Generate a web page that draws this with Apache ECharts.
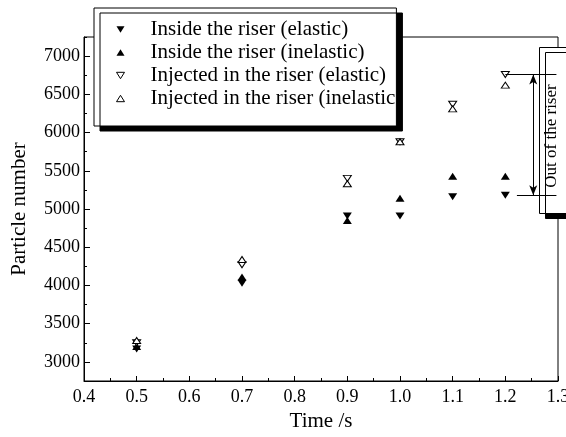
<!DOCTYPE html>
<html>
<head>
<meta charset="utf-8">
<script src="https://cdn.jsdelivr.net/npm/echarts@6/dist/echarts.min.js"></script>
<style>
  html, body { margin: 0; padding: 0; background: #fff; }
  #chart { width: 566px; height: 437px; }
</style>
</head>
<body>
<div id="chart"></div>
<script>
// Particle counts over time, inside the riser vs. injected into the riser
const times = [0.5, 0.7, 0.9, 1.0, 1.1, 1.2];
const insideElastic = [3170, 4030, 4910, 4910, 5160, 5180];
const insideInelastic = [3200, 4110, 4850, 5140, 5430, 5430];
const injectedElastic = [3250, 4270, 5400, 5880, 6370, 6760];
const injectedInelastic = [3280, 4340, 5330, 5880, 6310, 6620];

const seriesNames = [
  'Inside the riser (elastic)',
  'Inside the riser (inelastic)',
  'Injected in the riser (elastic)',
  'Injected in the riser (inelastic)'
];

const yMajorTicks = [3000, 3500, 4000, 4500, 5000, 5500, 6000, 6500, 7000];
const yMinorTicks = [2750, 3250, 3750, 4250, 4750, 5250, 5750, 6250, 6750, 7250];

const FONT = '"Liberation Serif", "Times New Roman", serif';

function pairs(ys) { return times.map((t, i) => [t, ys[i]]); }

const filled = { color: '#000', opacity: 1 };
const hollow = { color: '#fff', borderColor: '#000', borderWidth: 1, opacity: 1 };

const ICON_DOWN = 'path://M0,0L10,0L5,8Z';
const ICON_UP = 'path://M5,0L10,8L0,8Z';

// bracket marking the particles that left the riser at the last time step
const last = times.length - 1;
const bracketTop = injectedElastic[last];
const bracketBottom = insideElastic[last];

const chart = echarts.init(document.getElementById('chart'), null, { renderer: 'canvas' });

chart.setOption({
  backgroundColor: '#fff',
  animation: false,
  grid: {
    left: 84, right: 8, top: 37, bottom: 56,
    outerBoundsMode: 'none',
    containLabel: false,
    show: true, borderColor: '#000', borderWidth: 1
  },
  xAxis: {
    type: 'value',
    min: 0.4, max: 1.3, interval: 0.1,
    name: 'Time /s',
    nameLocation: 'middle',
    nameGap: 22,
    nameTextStyle: { fontFamily: FONT, fontSize: 21, color: '#000' },
    axisLine: { lineStyle: { color: '#000', width: 1 } },
    axisTick: { inside: true, length: 5, lineStyle: { color: '#000' } },
    minorTick: { show: true, splitNumber: 2, length: 3, lineStyle: { color: '#000' } },
    splitLine: { show: false },
    axisLabel: {
      fontFamily: FONT, fontSize: 18, color: '#000', margin: 7,
      formatter: v => v.toFixed(1)
    }
  },
  yAxis: [
    {
      type: 'value',
      min: 2750, max: 7250,
      name: 'Particle number',
      nameLocation: 'middle',
      nameGap: 54,
      nameTextStyle: { fontFamily: FONT, fontSize: 21, color: '#000' },
      axisLine: { show: true, lineStyle: { color: '#000', width: 1 } },
      axisTick: { inside: true, length: 6, customValues: yMajorTicks, lineStyle: { color: '#000' } },
      splitLine: { show: false },
      axisLabel: {
        fontFamily: FONT, fontSize: 18, color: '#000', margin: 4,
        customValues: yMajorTicks,
        formatter: v => String(v)
      }
    },
    {
      type: 'value',
      min: 2750, max: 7250,
      position: 'left',
      axisLine: { show: false },
      axisTick: { show: true, inside: true, length: 3, customValues: yMinorTicks, lineStyle: { color: '#000' } },
      splitLine: { show: false },
      axisLabel: { show: false }
    }
  ],
  legend: {
    orient: 'vertical',
    left: 94, top: 8,
    padding: [11, 1, 17, 22],
    itemGap: 2,
    itemWidth: 8, itemHeight: 7,
    selectedMode: false,
    backgroundColor: '#fff',
    borderColor: '#000',
    borderWidth: 1,
    shadowColor: '#000',
    shadowBlur: 0,
    shadowOffsetX: 6,
    shadowOffsetY: 5,
    textStyle: {
      fontFamily: FONT, fontSize: 21, color: '#000',
      padding: [0, 0, 0, 21],
      width: 246, overflow: 'truncate', ellipsis: ''
    },
    data: [
      { name: seriesNames[0], icon: ICON_DOWN, itemStyle: { color: '#000', borderWidth: 0 } },
      { name: seriesNames[1], icon: ICON_UP, itemStyle: { color: '#000', borderWidth: 0 } },
      { name: seriesNames[2], icon: ICON_DOWN, itemStyle: { color: '#fff', borderColor: '#000', borderWidth: 1 } },
      { name: seriesNames[3], icon: ICON_UP, itemStyle: { color: '#fff', borderColor: '#000', borderWidth: 1 } }
    ]
  },
  graphic: [
    {
      type: 'rect', z: 1,
      shape: { x: 539.5, y: 47.5, width: 30, height: 166 },
      style: {
        fill: '#fff', stroke: '#000', lineWidth: 1,
        shadowColor: '#000', shadowBlur: 0, shadowOffsetX: 6, shadowOffsetY: 5
      }
    },
    {
      type: 'text', z: 1,
      x: 552, y: 136, rotation: Math.PI / 2,
      style: {
        text: 'Out of the riser',
        font: '17px ' + FONT,
        fill: '#000', align: 'center', verticalAlign: 'middle'
      }
    }
  ],
  series: [
    {
      name: seriesNames[0], type: 'scatter',
      symbol: 'triangle', symbolRotate: 180, symbolSize: [9, 7],
      itemStyle: filled, data: pairs(insideElastic)
    },
    {
      name: seriesNames[1], type: 'scatter',
      symbol: 'triangle', symbolSize: [9, 7],
      itemStyle: filled, data: pairs(insideInelastic)
    },
    {
      name: seriesNames[2], type: 'scatter',
      symbol: 'triangle', symbolRotate: 180, symbolSize: [8, 6],
      itemStyle: hollow, data: pairs(injectedElastic),
      markLine: {
        silent: true,
        symbol: 'none',
        label: { show: false },
        lineStyle: { color: '#000', width: 1, type: 'solid' },
        data: [
          [{ coord: [times[last], bracketTop] }, { coord: [1.297, bracketTop] }],
          [{ coord: [1.222, bracketBottom] }, { coord: [1.297, bracketBottom] }],
          [
            { coord: [1.253, bracketTop], symbol: 'arrow', symbolSize: [6, 10] },
            { coord: [1.253, bracketBottom], symbol: 'arrow', symbolSize: [6, 10] }
          ]
        ]
      }
    },
    {
      name: seriesNames[3], type: 'scatter',
      symbol: 'triangle', symbolSize: [8, 6],
      itemStyle: hollow, data: pairs(injectedInelastic)
    }
  ]
});
</script>
</body>
</html>
